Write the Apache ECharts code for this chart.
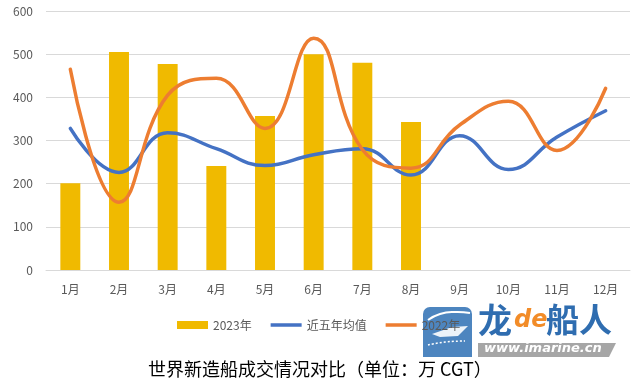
<!DOCTYPE html>
<html><head><meta charset="utf-8">
<script src="https://cdn.jsdelivr.net/npm/echarts@6/dist/echarts.min.js"></script>
<style>html,body{margin:0;padding:0;background:#fff}#c{width:639px;height:382px}</style>
</head><body><div id="c"></div>
<script>
const months = ['1月','2月','3月','4月','5月','6月','7月','8月','9月','10月','11月','12月'];
const y2023 = [201, 505, 477, 241, 357, 500, 480, 343, null, null, null, null];
const avg5 = [328, 226, 318, 281, 242, 267, 281, 220, 311, 233, 308, 369];
const y2022 = [465, 157, 405, 444, 328, 537, 279, 236, 336, 391, 277, 421];
const yTicks = [0, 100, 200, 300, 400, 500, 600];

const font = '"Noto Sans CJK SC", "Noto Sans", sans-serif';
const lineIcon = 'path://M0,0L0.05,0L0,0.05Z M0,2.2L31,2.2L31,5.8L0,5.8Z M31,8L30.95,8L31,7.95Z';
const chart = echarts.init(document.getElementById('c'), null, {renderer: 'canvas'});
chart.setOption({
  backgroundColor: '#fff',
  animation: false,
  title: {
    text: '世界新造船成交情况对比（单位：万 CGT）',
    left: 143, top: 355, z: 1,
    textStyle: {fontFamily: font, fontSize: 18, fontWeight: 'normal', color: '#000'}
  },
  grid: {left: 46, right: 9, top: 11, bottom: 112, containLabel: false},
  legend: {
    left: 172, top: 314, z: 50,
    itemWidth: 31, itemHeight: 8, itemGap: 19,
    textStyle: {fontFamily: font, fontSize: 12, color: '#595959'},
    data: [
      {name: '2023年', icon: 'rect'},
      {name: '近五年均值', icon: lineIcon},
      {name: '2022年', icon: lineIcon}
    ]
  },
  xAxis: {
    type: 'category', data: months,
    axisLine: {lineStyle: {color: '#d9d9d9'}},
    axisTick: {show: false},
    axisLabel: {fontFamily: font, fontSize: 12, color: '#595959', margin: 13}
  },
  yAxis: {
    type: 'value', min: yTicks[0], max: yTicks[yTicks.length - 1], interval: 100,
    axisLine: {show: false}, axisTick: {show: false},
    axisLabel: {fontFamily: font, fontSize: 12, color: '#595959', margin: 13},
    splitLine: {lineStyle: {color: '#d9d9d9', width: 1}}
  },
  series: [
    {name: '2023年', type: 'bar', data: y2023, barWidth: '41%',
     itemStyle: {color: '#F0BA00'}},
    {name: '近五年均值', type: 'line', data: avg5, smooth: 0.45, symbol: 'none',
     lineStyle: {color: '#4472C4', width: 3.5, cap: 'round'}, itemStyle: {color: '#4472C4'}},
    {name: '2022年', type: 'line', data: y2022, smooth: 0.45, symbol: 'none',
     lineStyle: {color: '#ED7D31', width: 3.5, cap: 'round'}, itemStyle: {color: '#ED7D31'}}
  ],
  graphic: [
    {type: 'rect', left: 423, top: 307, z: 10, shape: {width: 49, height: 50, r: [7, 7, 0, 0]},
     style: {fill: '#3A78B8', opacity: 0.9}},
    {type: 'polyline', z: 11, shape: {points: [[428, 320], [440, 314], [455, 312], [470, 313]], smooth: 0.5},
     style: {stroke: '#fff', lineWidth: 2, fill: null}},
    {type: 'polygon', z: 11, shape: {points: [[432, 334], [452, 327], [468, 326], [458, 336], [440, 337]]},
     style: {fill: '#fff', opacity: 0.9}},
    {type: 'polyline', z: 11, shape: {points: [[428, 345], [445, 342], [465, 341]], smooth: 0.5},
     style: {stroke: '#fff', lineWidth: 1.5, fill: null, lineDash: [2, 2]}},
    {type: 'polygon', z: 10, shape: {points: [[478, 343], [616, 343], [609, 357], [478, 357]]},
     style: {fill: '#A6A6A6'}},
    {type: 'text', left: 484, top: 342, z: 11,
     style: {text: 'www.imarine.cn', fill: '#fff', fontFamily: '"DejaVu Sans", sans-serif',
             fontSize: 13, fontWeight: 'bold', fontStyle: 'italic'}},
    {type: 'text', left: 478, top: 303, z: 11,
     style: {text: '龙', fill: '#2F6DB0', fontFamily: font, fontSize: 34, fontWeight: 'bold'}},
    {type: 'text', left: 514, top: 309, z: 11,
     style: {text: 'de', fill: '#F28C28', fontFamily: '"DejaVu Sans", sans-serif', fontSize: 24,
             fontWeight: 'bold', fontStyle: 'italic'}},
    {type: 'text', left: 546, top: 303, z: 11,
     style: {text: '船人', fill: '#2F6DB0', fontFamily: font, fontSize: 33, fontWeight: 'bold'}}
  ]
});
</script></body></html>
